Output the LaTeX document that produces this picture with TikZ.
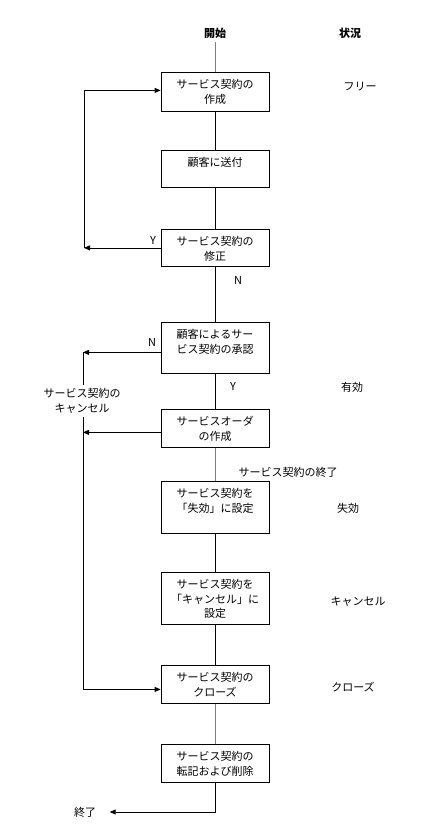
\documentclass[tikz,border=0pt]{standalone}
\usepackage{fontspec}
\setmainfont{Noto Sans CJK JP}
\usetikzlibrary{arrows.meta}
\tikzset{
  box/.style={draw, anchor=north, text width=100pt, align=center, inner xsep=4pt, inner ysep=4pt, text height=12.5pt, text depth=#1},
  arr/.style={-{Triangle[length=6pt, width=5pt]}},
  head/.style={font=\fontsize{11}{14.5}\selectfont\bfseries},
}
\begin{document}
\begin{tikzpicture}[x=1pt, y=-1pt, line width=0.8pt, font=\fontsize{11}{14.5}\selectfont]
    \useasboundingbox (0, 0) rectangle (435, 840);
    % heads
    \node[head] (start) at (215, 33) {開始};
    \node[head] (status) at (350, 33) {状況};
    % steps
    \node[box=18.5pt] (create) at (215, 72) {サービス契約の\\作成};
    \node[box=16.5pt] (send) at (215, 150) {顧客に送付};
    \node[box=16.5pt] (revise) at (215, 229) {サービス契約の\\修正};
    \node[box=30.5pt] (approve) at (215, 322) {顧客によるサー\\ビス契約の承認};
    \node[box=17.5pt] (order) at (215, 409) {サービスオーダ\\の作成};
    \node[box=31.5pt] (expire) at (215, 481) {サービス契約を\\「失効」に設定};
    \node[box=31.5pt] (setcancel) at (215, 572) {サービス契約を\\「キャンセル」に\\設定};
    \node[box=17.5pt] (close) at (215, 665) {サービス契約の\\クローズ};
    \node[box=17.5pt] (post) at (215, 744) {サービス契約の\\転記および削除};
    % states
    \node (free) at (360, 87) {フリー};
    \node (valid) at (352, 387) {有効};
    \node (lapsed) at (348, 508) {失効};
    \node (cancelled) at (358, 602) {キャンセル};
    \node (closed) at (353, 687) {クローズ};
    % branch texts
    \node (yrev) at (153, 240) {Y};
    \node (nrev) at (238, 280) {N};
    \node (napp) at (152, 342) {N};
    \node (yapp) at (233, 386) {Y};
    \node (ended) at (288, 472) {サービス契約の終了};
    \node[align=center] (cancel) at (82, 401) {サービス契約の\\キャンセル};
    \node (finish) at (85, 812) {終了};
    \coordinate (loop) at (84, 0);
    \coordinate (back) at (83, 0);
    \coordinate (intop) at ([yshift=1.5pt]create.west);
    \coordinate (outN) at ([yshift=-4.5pt]approve.west);
    \coordinate (outorder) at ([yshift=-4pt]order.west);
    \coordinate (inclose) at ([yshift=-5pt]close.west);
    % main line
    \draw[gray] (start) -- (create);
    \foreach \a/\b in {create/send, send/revise, revise/approve, approve/order, expire/setcancel, setcancel/close}
        \draw (\a) -- (\b);
    \draw[gray] (order) -- (expire);
    \draw[gray] (close) -- (post);
    \draw[arr, shorten >=10pt] (post.south) |- (finish.east);
    % revise loop
    \draw[arr] (revise.west) -- (revise.west -| loop);
    \draw[arr] (revise.west -| loop) -- (intop -| loop) -- (intop);
    % cancel line
    \draw[arr] (outN) -- (outN -| back);
    \draw (outN -| back) -- (cancel.north -| back);
    \draw[arr] (outorder) -- (outorder -| back);
    \draw[arr] (cancel.south -| back) -- (inclose -| back) -- (inclose);
\end{tikzpicture}
\end{document}
